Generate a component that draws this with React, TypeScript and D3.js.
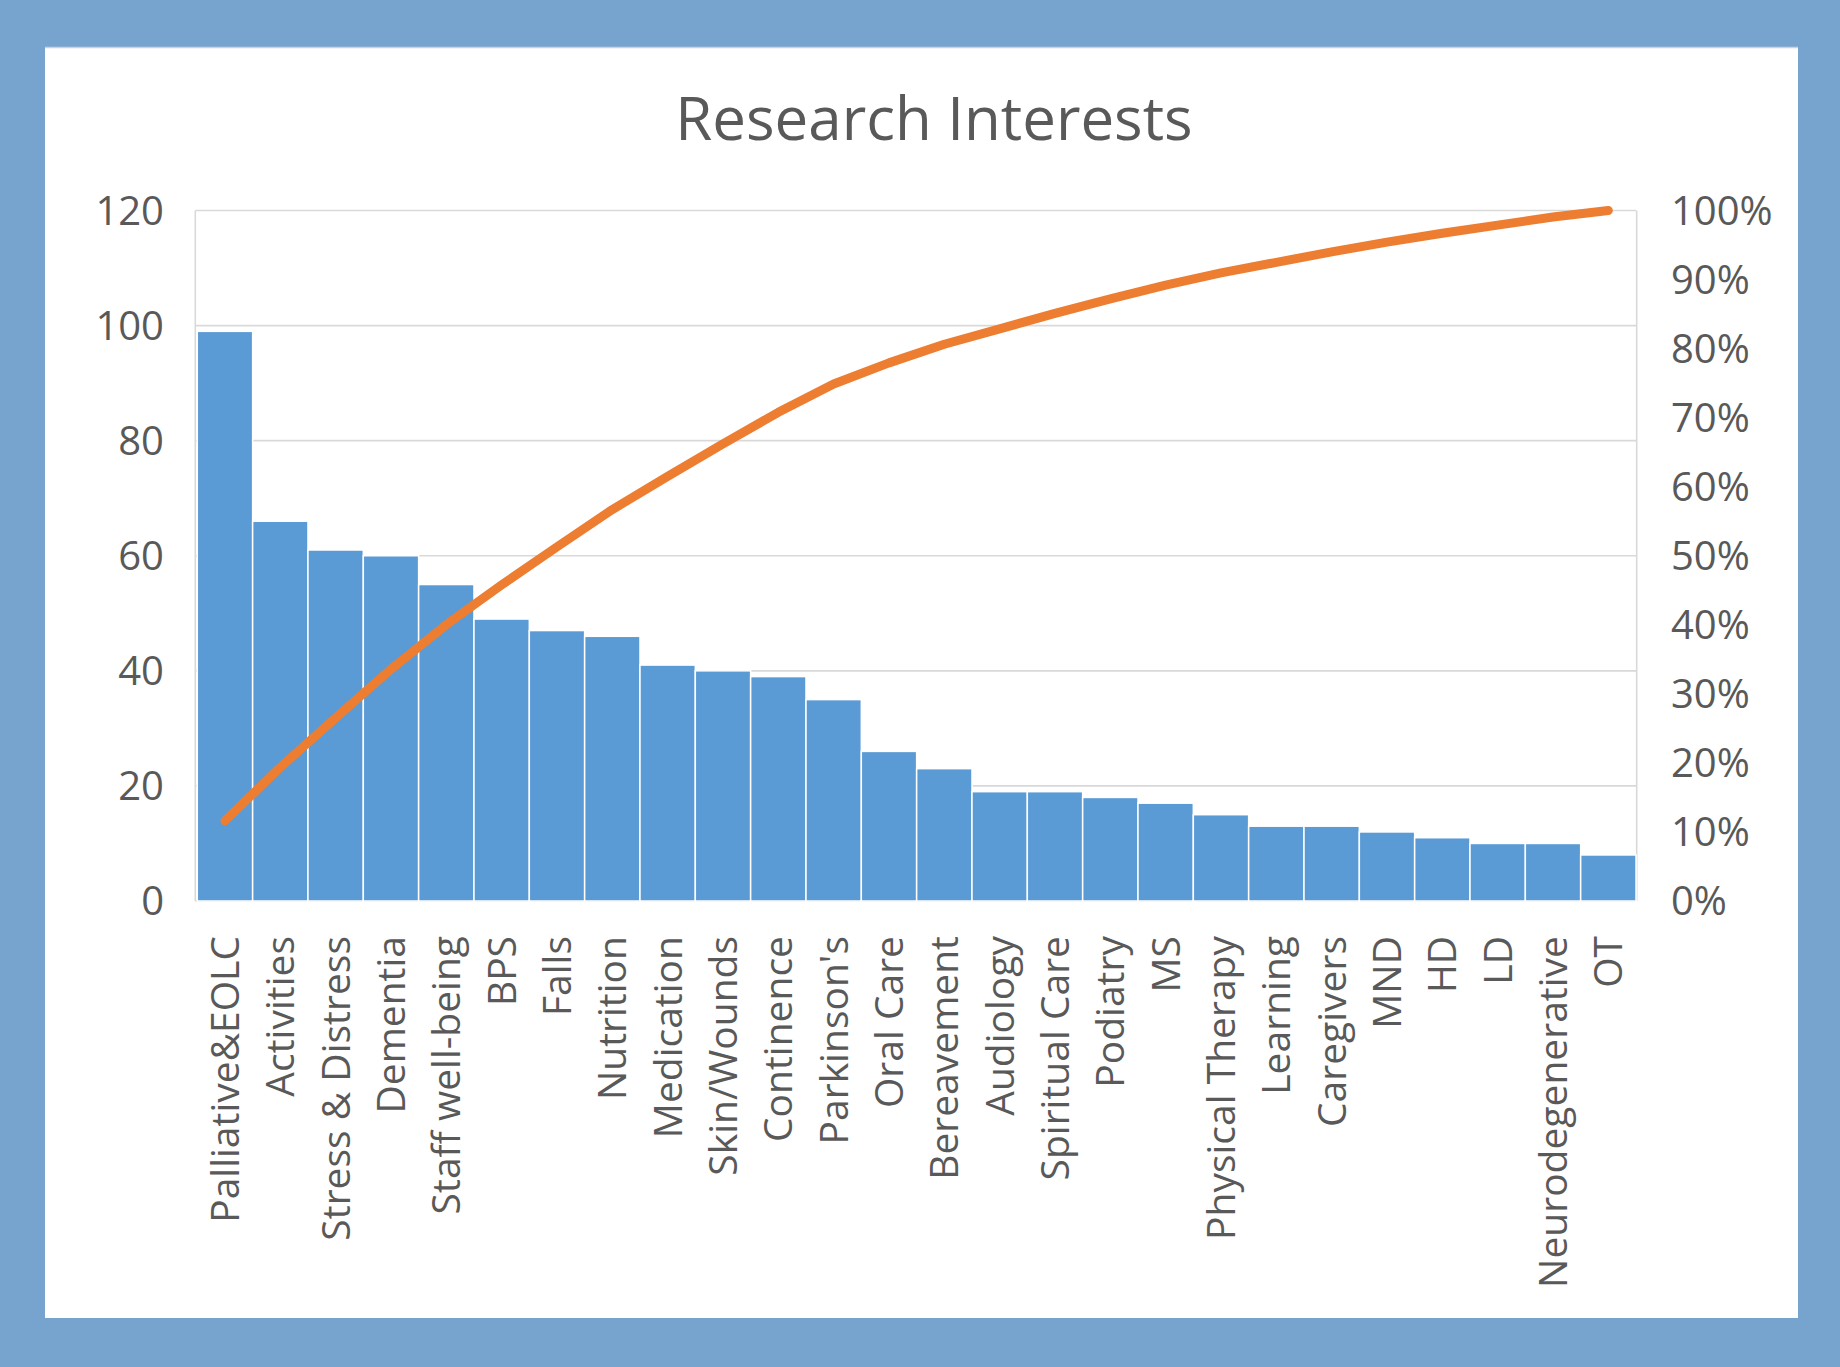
import * as d3 from 'd3';
import React from 'react';

const categories = [
	'Palliative&EOLC', 'Activities', 'Stress & Distress', 'Dementia', 'Staff well-being',
	'BPS', 'Falls', 'Nutrition', 'Medication', 'Skin/Wounds', 'Continence', "Parkinson's",
	'Oral Care', 'Bereavement', 'Audiology', 'Spiritual Care', 'Podiatry', 'MS',
	'Physical Therapy', 'Learning', 'Caregivers', 'MND', 'HD', 'LD', 'Neurodegenerative', 'OT',
];
const counts = [99, 66, 61, 60, 55, 49, 47, 46, 41, 40, 39, 35, 26, 23, 19, 19, 18, 17, 15, 13, 13, 12, 11, 10, 10, 8];
const countTicks = [0, 20, 40, 60, 80, 100, 120];
const pctTicks = [0, 0.1, 0.2, 0.3, 0.4, 0.5, 0.6, 0.7, 0.8, 0.9, 1];
const title = 'Research Interests';

const W = 1840;
const H = 1367;
const plot = { left: 197.3, right: 1636, top: 210.5, bottom: 901 };
const font = '"Open Sans", sans-serif';
const textColor = '#595959';
const gridColor = '#D9D9D9';

export default function App() {
	const x = d3.scaleBand<string>().domain(categories).range([plot.left, plot.right]).padding(0);
	const y = d3.scaleLinear().domain([0, 120]).range([plot.bottom, plot.top]);
	const yPct = d3.scaleLinear().domain([0, 1]).range([plot.bottom, plot.top]);

	const total = d3.sum(counts);
	const cum = Array.from(d3.cumsum(counts)).map(v => v / total);

	const line = d3
		.line<number>()
		.x((d, i) => (x(categories[i]) as number) + x.bandwidth() / 2)
		.y(d => yPct(d));

	return (
		<svg width={W} height={H} style={{ position: 'absolute', left: 0, top: 0 }} fontFamily={font}>
			<rect x={0} y={0} width={W} height={H} fill="#77A3CF" />
			<rect x={45} y={47} width={1753} height={1271} fill="#ffffff" />
			<line x1={45} x2={1798} y1={47.5} y2={47.5} stroke="#c9d3de" strokeWidth={1.5} />

			<text x={934} y={140} textAnchor="middle" fontSize={60} fill={textColor}>
				{title}
			</text>

			{/* gridlines */}
			{countTicks.map(t => (
				<line key={t} x1={plot.left - 2} x2={plot.right} y1={y(t)} y2={y(t)} stroke={gridColor} strokeWidth={1.6} />
			))}
			<line x1={plot.left - 2} x2={plot.left - 2} y1={plot.top} y2={plot.bottom} stroke={gridColor} strokeWidth={1.6} />
			<line x1={plot.right + 0.7} x2={plot.right + 0.7} y1={plot.top} y2={plot.bottom} stroke={gridColor} strokeWidth={1.6} />

			{/* bars */}
			{categories.map((c, i) => (
				<rect
					key={c}
					x={x(c)}
					y={y(counts[i])}
					width={x.bandwidth()}
					height={y(0) - y(counts[i])}
					fill="#5B9BD5"
					stroke="#ffffff"
					strokeWidth={1.5}
				/>
			))}

			{/* cumulative line */}
			<path
				d={line(cum) || ''}
				fill="none"
				stroke="#ED7D31"
				strokeWidth={9}
				strokeLinecap="round"
				strokeLinejoin="round"
			/>

			{/* left axis */}
			{countTicks.map(t => (
				<text key={t} x={164} y={y(t)} dy="0.36em" textAnchor="end" fontSize={40} fill={textColor}>
					{t}
				</text>
			))}

			{/* right axis */}
			{pctTicks.map(t => (
				<text key={t} x={1671} y={yPct(t)} dy="0.36em" textAnchor="start" fontSize={40} fill={textColor}>
					{d3.format('.0%')(t)}
				</text>
			))}

			{/* category labels */}
			{categories.map(c => {
				const cx = (x(c) as number) + x.bandwidth() / 2;
				return (
					<text
						key={c}
						transform={`translate(${cx},936) rotate(-90)`}
						dy="0.36em"
						textAnchor="end"
						fontSize={39}
						fill={textColor}
					>
						{c}
					</text>
				);
			})}
		</svg>
	);
}
